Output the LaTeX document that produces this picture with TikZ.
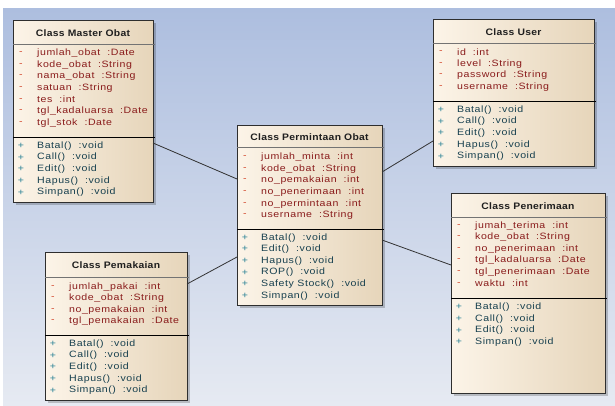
\documentclass[tikz,border=0pt]{standalone}
\usepackage{fontspec}
\setmainfont{Liberation Sans}
\newfontfamily\memberfont[FakeStretch=1.15,LetterSpace=6]{Liberation Sans}
\newfontfamily\titlefont[FakeStretch=1.1,LetterSpace=3]{Liberation Sans}
\usetikzlibrary{shadows}
\definecolor{ClassCream}{HTML}{FCF4E8}
\definecolor{ClassTan}{HTML}{E6D5BA}
\definecolor{BackBlue}{HTML}{ADBEDF}
\definecolor{BackPale}{HTML}{E6EAF2}
\definecolor{AttrRed}{HTML}{8A1C1C}
\definecolor{DashRed}{HTML}{D2452A}
\definecolor{OpTeal}{HTML}{17404F}
\definecolor{PlusTeal}{HTML}{2A8296}
\definecolor{EdgeGrey}{HTML}{2E2E2E}

\tikzset{
  classbox/.style={draw=EdgeGrey, line width=0.9pt, left color=ClassCream,
    right color=ClassTan, anchor=north west, inner sep=0pt, outer sep=0pt,
    drop shadow={shadow xshift=3pt, shadow yshift=-3pt, fill=black, opacity=0.2}},
  classtitle/.style={font=\titlefont\bfseries\fontsize{9.4}{11}\selectfont, text=black!88},
  titlerule/.style={draw=black!55, line width=0.8pt},
  memberrule/.style={draw=black, line width=0.8pt},
  attr/.style={anchor=west, inner sep=0pt, font=\memberfont\fontsize{9.2}{11}\selectfont, text=AttrRed},
  attrsign/.style={inner sep=0pt, font=\memberfont\fontsize{9.2}{11}\selectfont, text=DashRed},
  op/.style={anchor=west, inner sep=0pt, font=\memberfont\fontsize{9.2}{11}\selectfont, text=OpTeal},
  opsign/.style={inner sep=0pt, font=\memberfont\fontsize{9.2}{11}\selectfont, text=PlusTeal},
  assoc/.style={draw=black!80, line width=0.8pt}
}

% name, left x, first row y, kind (attr/op), sign, rows
\newcommand{\members}[6]{%
  \foreach \m [count=\i] in {#6}{
    \node[#4sign] (#1-\i-sign) at ({#2+8}, {#3+11.6*(\i-1)}) {#5};
    \node[#4] (#1-\i) at ({#2+24}, {#3+11.6*(\i-1)}) {\m};
  }}
\newcommand{\ty}[1]{\hspace{7pt}:#1}

\begin{document}
\begin{tikzpicture}[x=1pt, y=-1pt]
  \useasboundingbox (0,0) rectangle (615,405);
  \fill[top color=BackBlue, bottom color=BackPale] (3,8) rectangle (615,405);

  % class frames
  \node[classbox, minimum width=140pt, minimum height=182pt] (master) at (13,20) {};
  \node[classbox, minimum width=145pt, minimum height=180pt] (permintaan) at (237,125) {};
  \node[classbox, minimum width=161pt, minimum height=147pt] (user) at (433,19) {};
  \node[classbox, minimum width=154pt, minimum height=200pt] (penerimaan) at (451,193) {};
  \node[classbox, minimum width=142pt, minimum height=148pt] (pemakaian) at (45,252) {};

  % associations
  \draw[assoc] ([yshift=-32pt]master.east) -- ([yshift=36pt]permintaan.west);
  \draw[assoc] ([yshift=43pt]permintaan.east) -- ([yshift=-48.5pt]user.west);
  \draw[assoc] ([yshift=-25pt]permintaan.east) -- ([yshift=28pt]penerimaan.west);
  \draw[assoc] ([yshift=42pt]pemakaian.east) -- ([yshift=-42pt]permintaan.west);

  % Class Master Obat
  \node[classtitle] (master-title) at ([yshift=-13pt]master.north) {Class Master Obat};
  \draw[titlerule] (master.west |- 0,44) -- ([xshift=1.5pt]master.east |- 0,44);
  \draw[memberrule] (master.west |- 0,137) -- ([xshift=1.5pt]master.east |- 0,137);
  \members{master-a}{13}{53.3}{attr}{-}{jumlah\_obat\ty{Date}, kode\_obat\ty{String},
    nama\_obat\ty{String}, satuan\ty{String}, tes\ty{int},
    tgl\_kadaluarsa\ty{Date}, tgl\_stok\ty{Date}}
  \members{master-o}{13}{146}{op}{+}{Batal()\ty{void}, Call()\ty{void},
    Edit()\ty{void}, Hapus()\ty{void}, Simpan()\ty{void}}

  % Class Permintaan Obat
  \node[classtitle] (permintaan-title) at ([yshift=-12pt]permintaan.north) {Class Permintaan Obat};
  \draw[titlerule] (permintaan.west |- 0,147) -- ([xshift=1.5pt]permintaan.east |- 0,147);
  \draw[memberrule] (permintaan.west |- 0,229) -- ([xshift=1.5pt]permintaan.east |- 0,229);
  \members{permintaan-a}{237}{157.3}{attr}{-}{jumlah\_minta\ty{int}, kode\_obat\ty{String},
    no\_pemakaian\ty{int}, no\_penerimaan\ty{int}, no\_permintaan\ty{int},
    username\ty{String}}
  \members{permintaan-o}{237}{237.7}{op}{+}{Batal()\ty{void}, Edit()\ty{void},
    Hapus()\ty{void}, ROP()\ty{void}, Safety Stock()\ty{void}, Simpan()\ty{void}}

  % Class User
  \node[classtitle] (user-title) at ([yshift=-13.5pt]user.north) {Class User};
  \draw[titlerule] (user.west |- 0,43) -- ([xshift=1.5pt]user.east |- 0,43);
  \draw[memberrule] (user.west |- 0,101) -- ([xshift=1.5pt]user.east |- 0,101);
  \members{user-a}{433}{52.3}{attr}{-}{id\ty{int}, level\ty{String},
    password\ty{String}, username\ty{String}}
  \members{user-o}{433}{110}{op}{+}{Batal()\ty{void}, Call()\ty{void},
    Edit()\ty{void}, Hapus()\ty{void}, Simpan()\ty{void}}

  % Class Penerimaan
  \node[classtitle] (penerimaan-title) at ([yshift=-13pt]penerimaan.north) {Class Penerimaan};
  \draw[titlerule] (penerimaan.west |- 0,217) -- ([xshift=1.5pt]penerimaan.east |- 0,217);
  \draw[memberrule] (penerimaan.west |- 0,298) -- ([xshift=1.5pt]penerimaan.east |- 0,298);
  \members{penerimaan-a}{451}{225.7}{attr}{-}{jumah\_terima\ty{int}, kode\_obat\ty{String},
    no\_penerimaan\ty{int}, tgl\_kadaluarsa\ty{Date}, tgl\_penerimaan\ty{Date},
    waktu\ty{int}}
  \members{penerimaan-o}{451}{307.3}{op}{+}{Batal()\ty{void}, Call()\ty{void},
    Edit()\ty{void}, Simpan()\ty{void}}

  % Class Pemakaian
  \node[classtitle] (pemakaian-title) at ([yshift=-13.5pt]pemakaian.north) {Class Pemakaian};
  \draw[titlerule] (pemakaian.west |- 0,277) -- ([xshift=1.5pt]pemakaian.east |- 0,277);
  \draw[memberrule] (pemakaian.west |- 0,335) -- ([xshift=1.5pt]pemakaian.east |- 0,335);
  \members{pemakaian-a}{45}{286.7}{attr}{-}{jumlah\_pakai\ty{int}, kode\_obat\ty{String},
    no\_pemakaian\ty{int}, tgl\_pemakaian\ty{Date}}
  \members{pemakaian-o}{45}{344}{op}{+}{Batal()\ty{void}, Call()\ty{void},
    Edit()\ty{void}, Hapus()\ty{void}, Simpan()\ty{void}}
\end{tikzpicture}
\end{document}
